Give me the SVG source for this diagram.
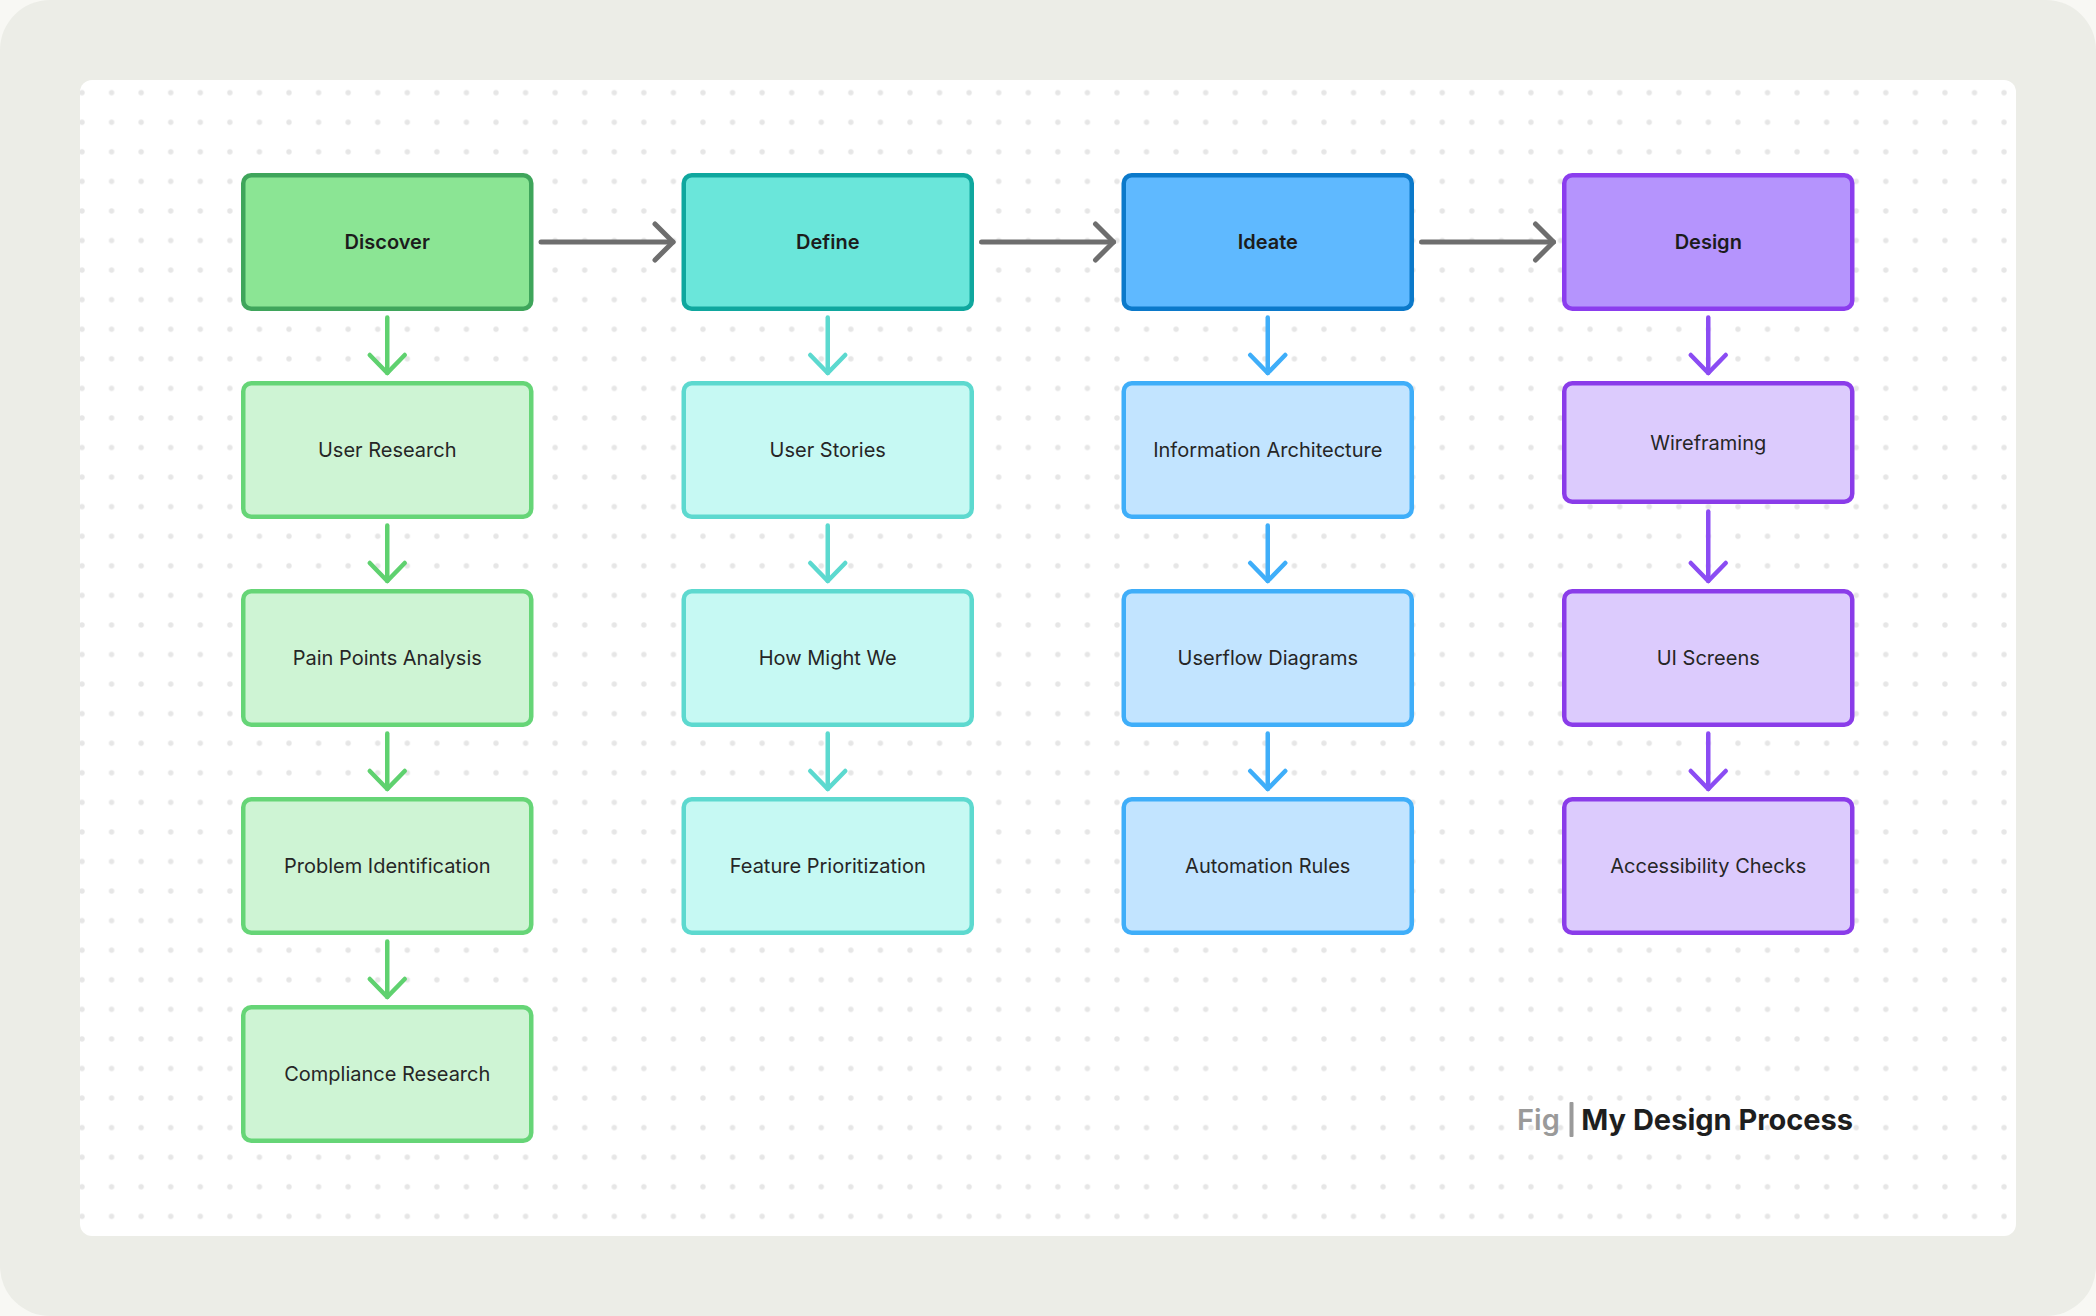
<svg xmlns="http://www.w3.org/2000/svg" width="2096" height="1316" viewBox="0 0 2096 1316">
  <defs>
    <pattern id="dots" patternUnits="userSpaceOnUse" x="96.8" y="77.9" width="29.57" height="29.57">
      <circle cx="14.785" cy="14.785" r="2.7" fill="#E6E6E6"/>
    </pattern>
    <clipPath id="panelClip">
      <rect x="80" y="80" width="1936" height="1156" rx="12"/>
    </clipPath>
    <marker id="mGray" markerUnits="userSpaceOnUse" viewBox="-30 -25 40 50" markerWidth="40" markerHeight="50" refX="0" refY="0" orient="auto">
      <path d="M-18,-18 L0,0 L-18,18" fill="none" stroke="#6E6E6E" stroke-width="5" stroke-linecap="round" stroke-linejoin="round"/>
    </marker>
    <marker id="mGreen" markerUnits="userSpaceOnUse" viewBox="-30 -25 40 50" markerWidth="40" markerHeight="50" refX="0" refY="0" orient="auto">
      <path d="M-18,-17.5 L0,0 L-18,17.5" fill="none" stroke="#5FD16F" stroke-width="4.5" stroke-linecap="round" stroke-linejoin="round"/>
    </marker>
    <marker id="mTeal" markerUnits="userSpaceOnUse" viewBox="-30 -25 40 50" markerWidth="40" markerHeight="50" refX="0" refY="0" orient="auto">
      <path d="M-18,-17.5 L0,0 L-18,17.5" fill="none" stroke="#5CD9CF" stroke-width="4.5" stroke-linecap="round" stroke-linejoin="round"/>
    </marker>
    <marker id="mBlue" markerUnits="userSpaceOnUse" viewBox="-30 -25 40 50" markerWidth="40" markerHeight="50" refX="0" refY="0" orient="auto">
      <path d="M-18,-17.5 L0,0 L-18,17.5" fill="none" stroke="#3FAEF9" stroke-width="4.5" stroke-linecap="round" stroke-linejoin="round"/>
    </marker>
    <marker id="mPurple" markerUnits="userSpaceOnUse" viewBox="-30 -25 40 50" markerWidth="40" markerHeight="50" refX="0" refY="0" orient="auto">
      <path d="M-18,-17.5 L0,0 L-18,17.5" fill="none" stroke="#8B4CF3" stroke-width="4.5" stroke-linecap="round" stroke-linejoin="round"/>
    </marker>
  </defs>
  <style>
    .box { stroke-width: 4.5; }
    .hdr { font-family: Inter, "Noto Sans", "Liberation Sans", sans-serif; font-size: 20px; font-weight: 600; fill: #1C1C1C; text-anchor: middle; }
    .lbl { font-family: Inter, "Noto Sans", "Liberation Sans", sans-serif; font-size: 20px; font-weight: 400; fill: #262626; text-anchor: middle; }
    .g-h { fill: #8BE594; stroke: #3FA55B; }
    .g-s { fill: #CEF4D4; stroke: #66D577; }
    .t-h { fill: #6AE6DA; stroke: #0FA79E; }
    .t-s { fill: #C6F9F3; stroke: #5DD9CF; }
    .b-h { fill: #5FB9FF; stroke: #0B79CA; }
    .b-s { fill: #C2E4FF; stroke: #3FAEF9; }
    .p-h { fill: #B594FD; stroke: #8B3DEE; }
    .p-s { fill: #DCCBFD; stroke: #8A3CE9; }
    .conn { fill: none; stroke-width: 4.5; stroke-linecap: round; }
    .c-gray { stroke: #6E6E6E; stroke-width: 5; marker-end: url(#mGray); }
    .c-green { stroke: #5FD16F; marker-end: url(#mGreen); }
    .c-teal { stroke: #5CD9CF; marker-end: url(#mTeal); }
    .c-blue { stroke: #3FAEF9; marker-end: url(#mBlue); }
    .c-purple { stroke: #8B4CF3; marker-end: url(#mPurple); }
  </style>

  <!-- background -->
  <rect x="0" y="0" width="2096" height="1316" fill="#F8F8F4"/>
  <rect x="0" y="0" width="2096" height="1316" rx="50" fill="#ECEDE7"/>
  <rect x="80" y="80" width="1936" height="1156" rx="12" fill="#FFFFFF"/>
  <rect x="80" y="80" width="1936" height="1156" fill="url(#dots)" clip-path="url(#panelClip)"/>

  <!-- connectors -->
  <g id="connectors">
    <path class="conn c-gray" d="M541,242 L673,242"/>
    <path class="conn c-gray" d="M981.5,242 L1113.5,242"/>
    <path class="conn c-gray" d="M1421.5,242 L1553.5,242"/>

    <path class="conn c-green" d="M387.25,317.5 L387.25,373"/>
    <path class="conn c-green" d="M387.25,525.5 L387.25,581"/>
    <path class="conn c-green" d="M387.25,733.5 L387.25,789"/>
    <path class="conn c-green" d="M387.25,941.5 L387.25,997"/>

    <path class="conn c-teal" d="M827.75,317.5 L827.75,373"/>
    <path class="conn c-teal" d="M827.75,525.5 L827.75,581"/>
    <path class="conn c-teal" d="M827.75,733.5 L827.75,789"/>

    <path class="conn c-blue" d="M1267.75,317.5 L1267.75,373"/>
    <path class="conn c-blue" d="M1267.75,525.5 L1267.75,581"/>
    <path class="conn c-blue" d="M1267.75,733.5 L1267.75,789"/>

    <path class="conn c-purple" d="M1708.25,317.5 L1708.25,373"/>
    <path class="conn c-purple" d="M1708.25,511.5 L1708.25,581"/>
    <path class="conn c-purple" d="M1708.25,733.5 L1708.25,789"/>
  </g>

  <!-- Discover column -->
  <g id="discover">
    <rect class="box g-h" x="243.25" y="175.25" width="288" height="133.5" rx="8"/>
    <text class="hdr" x="387.25" y="249.3">Discover</text>
  </g>
  <g id="user-research">
    <rect class="box g-s" x="243.25" y="383.25" width="288" height="133.5" rx="8"/>
    <text class="lbl" x="387.25" y="457.3">User Research</text>
  </g>
  <g id="pain-points-analysis">
    <rect class="box g-s" x="243.25" y="591.25" width="288" height="133.5" rx="8"/>
    <text class="lbl" x="387.25" y="665.3">Pain Points Analysis</text>
  </g>
  <g id="problem-identification">
    <rect class="box g-s" x="243.25" y="799.25" width="288" height="133.5" rx="8"/>
    <text class="lbl" x="387.25" y="873.3">Problem Identification</text>
  </g>
  <g id="compliance-research">
    <rect class="box g-s" x="243.25" y="1007.25" width="288" height="133.5" rx="8"/>
    <text class="lbl" x="387.25" y="1081.3">Compliance Research</text>
  </g>

  <!-- Define column -->
  <g id="define">
    <rect class="box t-h" x="683.75" y="175.25" width="288" height="133.5" rx="8"/>
    <text class="hdr" x="827.75" y="249.3">Define</text>
  </g>
  <g id="user-stories">
    <rect class="box t-s" x="683.75" y="383.25" width="288" height="133.5" rx="8"/>
    <text class="lbl" x="827.75" y="457.3">User Stories</text>
  </g>
  <g id="how-might-we">
    <rect class="box t-s" x="683.75" y="591.25" width="288" height="133.5" rx="8"/>
    <text class="lbl" x="827.75" y="665.3">How Might We</text>
  </g>
  <g id="feature-prioritization">
    <rect class="box t-s" x="683.75" y="799.25" width="288" height="133.5" rx="8"/>
    <text class="lbl" x="827.75" y="873.3">Feature Prioritization</text>
  </g>

  <!-- Ideate column -->
  <g id="ideate">
    <rect class="box b-h" x="1123.75" y="175.25" width="288" height="133.5" rx="8"/>
    <text class="hdr" x="1267.75" y="249.3">Ideate</text>
  </g>
  <g id="information-architecture">
    <rect class="box b-s" x="1123.75" y="383.25" width="288" height="133.5" rx="8"/>
    <text class="lbl" x="1267.75" y="457.3">Information Architecture</text>
  </g>
  <g id="userflow-diagrams">
    <rect class="box b-s" x="1123.75" y="591.25" width="288" height="133.5" rx="8"/>
    <text class="lbl" x="1267.75" y="665.3">Userflow Diagrams</text>
  </g>
  <g id="automation-rules">
    <rect class="box b-s" x="1123.75" y="799.25" width="288" height="133.5" rx="8"/>
    <text class="lbl" x="1267.75" y="873.3">Automation Rules</text>
  </g>

  <!-- Design column -->
  <g id="design">
    <rect class="box p-h" x="1564.25" y="175.25" width="288" height="133.5" rx="8"/>
    <text class="hdr" x="1708.25" y="249.3">Design</text>
  </g>
  <g id="wireframing">
    <rect class="box p-s" x="1564.25" y="383.25" width="288" height="118.5" rx="8"/>
    <text class="lbl" x="1708.25" y="449.8">Wireframing</text>
  </g>
  <g id="ui-screens">
    <rect class="box p-s" x="1564.25" y="591.25" width="288" height="133.5" rx="8"/>
    <text class="lbl" x="1708.25" y="665.3">UI Screens</text>
  </g>
  <g id="accessibility-checks">
    <rect class="box p-s" x="1564.25" y="799.25" width="288" height="133.5" rx="8"/>
    <text class="lbl" x="1708.25" y="873.3">Accessibility Checks</text>
  </g>

  <!-- caption -->
  <g id="caption">
    <text x="1517" y="1130" font-family="Inter, 'Noto Sans', 'Liberation Sans', sans-serif" font-size="29" font-weight="600" fill="#9A9A9A">Fig</text>
    <rect x="1569.5" y="1102" width="4" height="35" rx="1" fill="#9A9A9A"/>
    <text x="1853" y="1130" text-anchor="end" font-family="Inter, 'Noto Sans', 'Liberation Sans', sans-serif" font-size="29" font-weight="700" fill="#1E1E1E">My Design Process</text>
  </g>
</svg>
